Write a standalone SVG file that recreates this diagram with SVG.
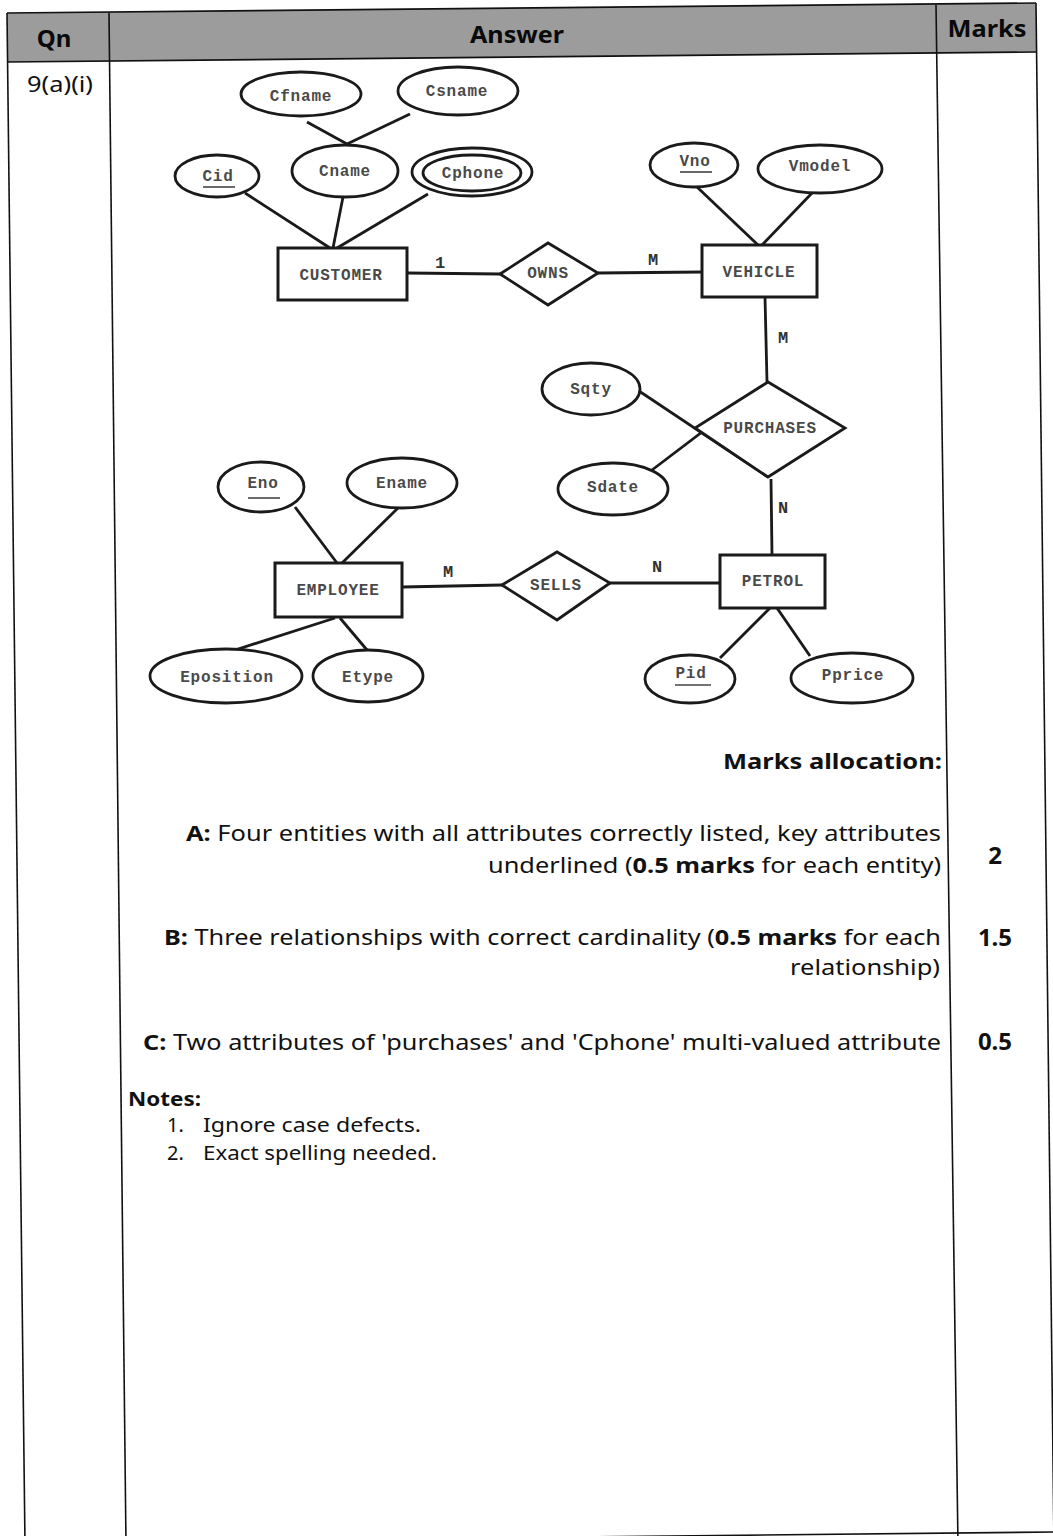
<svg xmlns="http://www.w3.org/2000/svg" width="1053" height="1536" viewBox="0 0 1053 1536">
<style>
.frame{stroke:#111;stroke-width:1.6;fill:none}
.hdr{font-family:"Noto Sans","Open Sans",sans-serif;font-weight:bold;font-size:24px;fill:#0a0a0a}
.body{font-family:"Noto Sans","Open Sans",sans-serif;font-size:22px;fill:#111}
.b{font-weight:bold}
.num{font-family:"Noto Sans","Open Sans",sans-serif;font-weight:bold;font-size:24px;fill:#111;text-anchor:middle}
.note{font-family:"Noto Sans","Open Sans",sans-serif;font-size:20px;fill:#111}
.ent{fill:#fff;stroke:#1a1a1a;stroke-width:3}
.att{fill:#fff;stroke:#1a1a1a;stroke-width:2.8}
.rel{fill:#fff;stroke:#1a1a1a;stroke-width:2.8}
.lbl{font-family:"Liberation Mono","DejaVu Sans Mono",monospace;font-weight:bold;font-size:16px;letter-spacing:0.8px;fill:#4a4a4a;text-anchor:middle}
.card{font-family:"Liberation Mono","DejaVu Sans Mono",monospace;font-weight:bold;font-size:17px;fill:#333;text-anchor:middle}
.ul{stroke:#444;stroke-width:1.6}
#connectors line{stroke:#1a1a1a;stroke-width:2.8}
</style>

<rect width="1053" height="1536" fill="#fff"/>

<!-- table -->
<g id="table">
  <polygon points="7,13 1036,3 1036,52 7,62" fill="#9c9c9c"/>
  <line class="frame" x1="7" y1="13" x2="1036" y2="3"/>
  <line class="frame" x1="7" y1="62" x2="1036" y2="52"/>
  <line class="frame" x1="7" y1="13" x2="25" y2="1545"/>
  <line class="frame" x1="109" y1="13" x2="126" y2="1545"/>
  <line class="frame" x1="936" y1="5" x2="958" y2="1545"/>
  <line class="frame" x1="1036" y1="3" x2="1054" y2="1545"/>
  <line class="frame" x1="7" y1="1543" x2="1053" y2="1532"/>
  <text class="hdr" x="54" y="47" text-anchor="middle">Qn</text>
  <text class="hdr" x="517" y="43" text-anchor="middle" textLength="94" lengthAdjust="spacingAndGlyphs">Answer</text>
  <text class="hdr" x="987" y="37" text-anchor="middle" textLength="79" lengthAdjust="spacingAndGlyphs">Marks</text>
  <text class="body" x="60" y="92" text-anchor="middle" textLength="66" lengthAdjust="spacingAndGlyphs">9(a)(i)</text>
</g>

<!-- connectors -->
<g id="connectors">
  <line x1="307" y1="122" x2="347" y2="144"/>
  <line x1="410" y1="114" x2="347" y2="144"/>
  <line x1="245" y1="193" x2="330" y2="248"/>
  <line x1="343" y1="197" x2="333" y2="248"/>
  <line x1="428" y1="194" x2="337" y2="248"/>
  <line x1="407" y1="273" x2="500" y2="274"/>
  <line x1="598" y1="273" x2="702" y2="272"/>
  <line x1="697" y1="187" x2="758" y2="245"/>
  <line x1="813" y1="192" x2="762" y2="245"/>
  <line x1="765" y1="297" x2="767" y2="382"/>
  <line x1="639" y1="391" x2="768" y2="477"/>
  <line x1="652" y1="470" x2="768" y2="382"/>
  <line x1="771" y1="479" x2="772" y2="555"/>
  <line x1="402" y1="587" x2="502" y2="585"/>
  <line x1="610" y1="583" x2="720" y2="583"/>
  <line x1="295" y1="507" x2="337" y2="563"/>
  <line x1="398" y1="508" x2="342" y2="563"/>
  <line x1="335" y1="618" x2="232" y2="651"/>
  <line x1="340" y1="618" x2="367" y2="650"/>
  <line x1="770" y1="608" x2="720" y2="658"/>
  <line x1="777" y1="608" x2="810" y2="656"/>
  <text class="card" x="440" y="268">1</text>
  <text class="card" x="653" y="265">M</text>
  <text class="card" x="783" y="343">M</text>
  <text class="card" x="783" y="513">N</text>
  <text class="card" x="448" y="577">M</text>
  <text class="card" x="657" y="572">N</text>
</g>

<!-- CUSTOMER -->
<g id="customer">
  <rect class="ent" x="278" y="248" width="129" height="52"/>
  <text class="lbl" x="341" y="280">CUSTOMER</text>
</g>
<g id="cfname">
  <ellipse class="att" cx="301" cy="94" rx="60" ry="22"/>
  <text class="lbl" x="301" y="101">Cfname</text>
</g>
<g id="csname">
  <ellipse class="att" cx="458" cy="91" rx="60" ry="24"/>
  <text class="lbl" x="457" y="96">Csname</text>
</g>
<g id="cid">
  <ellipse class="att" cx="217" cy="176" rx="42" ry="21"/>
  <text class="lbl" x="218" y="181">Cid</text>
  <line class="ul" x1="203" y1="187" x2="235" y2="187"/>
</g>
<g id="cname">
  <ellipse class="att" cx="345" cy="171" rx="53" ry="26"/>
  <text class="lbl" x="345" y="176">Cname</text>
</g>
<g id="cphone">
  <ellipse class="att" cx="472" cy="172" rx="60" ry="24"/>
  <ellipse class="att" cx="472" cy="173" rx="49" ry="18"/>
  <text class="lbl" x="473" y="178">Cphone</text>
</g>

<!-- OWNS -->
<g id="owns">
  <polygon class="rel" points="500,274 548,243 598,273 548,305"/>
  <text class="lbl" x="548" y="278">OWNS</text>
</g>

<!-- VEHICLE -->
<g id="vehicle">
  <rect class="ent" x="702" y="245" width="115" height="52"/>
  <text class="lbl" x="759" y="277">VEHICLE</text>
</g>
<g id="vno">
  <ellipse class="att" cx="694" cy="165" rx="44" ry="22"/>
  <text class="lbl" x="695" y="166">Vno</text>
  <line class="ul" x1="680" y1="172" x2="712" y2="172"/>
</g>
<g id="vmodel">
  <ellipse class="att" cx="820" cy="169" rx="62" ry="24"/>
  <text class="lbl" x="820" y="171">Vmodel</text>
</g>

<!-- PURCHASES -->
<g id="purchases">
  <polygon class="rel" points="768,382 845,428 768,477 695,428"/>
  <text class="lbl" x="770" y="433">PURCHASES</text>
</g>
<g id="sqty">
  <ellipse class="att" cx="591" cy="389" rx="49" ry="26"/>
  <text class="lbl" x="591" y="394">Sqty</text>
</g>
<g id="sdate">
  <ellipse class="att" cx="613" cy="489" rx="55" ry="26"/>
  <text class="lbl" x="613" y="492">Sdate</text>
</g>

<!-- EMPLOYEE -->
<g id="employee">
  <rect class="ent" x="275" y="563" width="127" height="54"/>
  <text class="lbl" x="338" y="595">EMPLOYEE</text>
</g>
<g id="eno">
  <ellipse class="att" cx="261" cy="487" rx="43" ry="25"/>
  <text class="lbl" x="263" y="488">Eno</text>
  <line class="ul" x1="248" y1="498" x2="280" y2="498"/>
</g>
<g id="ename">
  <ellipse class="att" cx="402" cy="483" rx="55" ry="25"/>
  <text class="lbl" x="402" y="488">Ename</text>
</g>
<g id="eposition">
  <ellipse class="att" cx="226" cy="676" rx="76" ry="27"/>
  <text class="lbl" x="227" y="682">Eposition</text>
</g>
<g id="etype">
  <ellipse class="att" cx="368" cy="676" rx="55" ry="26"/>
  <text class="lbl" x="368" y="682">Etype</text>
</g>

<!-- SELLS -->
<g id="sells">
  <polygon class="rel" points="502,585 557,552 610,583 557,620"/>
  <text class="lbl" x="556" y="590">SELLS</text>
</g>

<!-- PETROL -->
<g id="petrol">
  <rect class="ent" x="720" y="555" width="105" height="53"/>
  <text class="lbl" x="773" y="586">PETROL</text>
</g>
<g id="pid">
  <ellipse class="att" cx="690" cy="679" rx="45" ry="24"/>
  <text class="lbl" x="691" y="678">Pid</text>
  <line class="ul" x1="675" y1="685" x2="711" y2="685"/>
</g>
<g id="pprice">
  <ellipse class="att" cx="852" cy="678" rx="61" ry="25"/>
  <text class="lbl" x="853" y="680">Pprice</text>
</g>

<!-- marks allocation -->
<g id="marks-text">
  <text class="body b" x="942" y="769" text-anchor="end" textLength="219" lengthAdjust="spacingAndGlyphs">Marks allocation:</text>
  <text class="body" x="941" y="841" text-anchor="end" textLength="755" lengthAdjust="spacingAndGlyphs"><tspan class="b">A:</tspan> Four entities with all attributes correctly listed, key attributes</text>
  <text class="body" x="941" y="873" text-anchor="end" textLength="453" lengthAdjust="spacingAndGlyphs">underlined (<tspan class="b">0.5 marks</tspan> for each entity)</text>
  <text class="body" x="941" y="945" text-anchor="end" textLength="777" lengthAdjust="spacingAndGlyphs"><tspan class="b">B:</tspan> Three relationships with correct cardinality (<tspan class="b">0.5 marks</tspan> for each</text>
  <text class="body" x="940" y="975" text-anchor="end" textLength="150" lengthAdjust="spacingAndGlyphs">relationship)</text>
  <text class="body" x="941" y="1050" text-anchor="end" textLength="798" lengthAdjust="spacingAndGlyphs"><tspan class="b">C:</tspan> Two attributes of 'purchases' and 'Cphone' multi-valued attribute</text>
  <text class="num" x="995" y="864">2</text>
  <text class="num" x="995" y="946">1.5</text>
  <text class="num" x="995" y="1050">0.5</text>
</g>

<!-- notes -->
<g id="notes">
  <text class="note b" x="128" y="1106" textLength="73" lengthAdjust="spacingAndGlyphs">Notes:</text>
  <text class="note" x="167" y="1132">1.</text>
  <text class="note" x="203" y="1132" textLength="218" lengthAdjust="spacingAndGlyphs">Ignore case defects.</text>
  <text class="note" x="167" y="1160">2.</text>
  <text class="note" x="203" y="1160" textLength="234" lengthAdjust="spacingAndGlyphs">Exact spelling needed.</text>
</g>
</svg>
